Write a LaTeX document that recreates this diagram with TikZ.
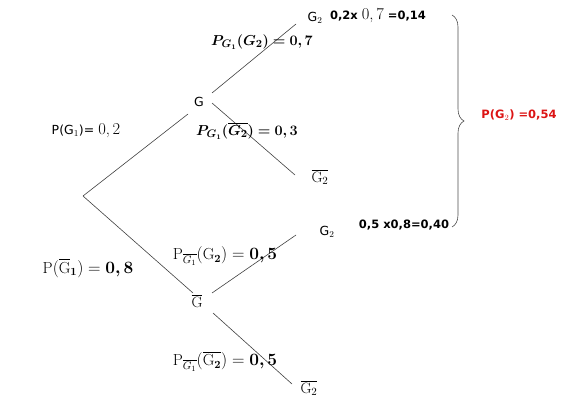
\documentclass[tikz,border=0pt]{standalone}
\usepackage{amsmath,bm}
\usepackage{fontspec}
\newfontfamily\sans{DejaVu Sans}
\usetikzlibrary{decorations.pathreplacing}
\definecolor{myred}{RGB}{220,20,20}
\begin{document}
\begin{tikzpicture}[x=1pt,y=-1pt,
  br/.style={draw=black!75, line width=0.6pt},
  sl/.style={font=\sans\fontsize{12.5}{14}\selectfont, inner sep=1pt},
  ml/.style={font=\fontsize{15}{17}\selectfont, inner sep=1pt},
  sb/.style={font=\sans\bfseries\fontsize{11.5}{13}\selectfont, inner sep=1pt}]
\useasboundingbox (0,0) rectangle (584,409);
% vertices
\coordinate (r) at (83,196);
\node[sl] (g) at (199,102) {G};
\node[ml] (gb) at (197,301) {$\overline{\mathrm{G}}$};
\node[sl] (g2a) at (315,18) {G$_2$};
\node[ml] (g2ba) at (320,177) {$\overline{\mathrm{G}_2}$};
\node[sl] (g2b) at (327,232) {G$_2$};
\node[ml] (g2bb) at (309,388) {$\overline{\mathrm{G}_2}$};
% branches
\draw[br] (r) -- (188,114);
\draw[br] (r) -- (193,293);
\draw[br] (212,93) -- (296,24);
\draw[br] (212,103) -- (295,175);
\draw[br] (212,293) -- (296,235);
\draw[br] (213,313) -- (292,384);
% labels
\node[sl] (p1) at (86,131) {P(G$_1$)= {\rmfamily\fontsize{16.5}{18}\selectfont 0,\,2}};
\node[ml, font=\fontsize{16}{18}\selectfont] (p2) at (88,268) {$\mathrm{P}(\overline{\mathrm{G}}_{\bm{1}}) = \bm{0,8}$};
\node[ml] (p3) at (262,42) {$\bm{P_{G_1}(G_2) = 0,7}$};
\node[ml] (p4) at (247,131) {$\bm{P_{G_1}(\overline{G_2}) = 0,3}$};
\node[ml, font=\fontsize{16}{18}\selectfont] (p5) at (225,256) {$\mathrm{P}_{\overline{G_1}}(\mathrm{G}_{\bm 2}) = \bm{0,5}$};
\node[ml, font=\fontsize{16}{18}\selectfont] (p6) at (225,361) {$\mathrm{P}_{\overline{G_1}}(\overline{\mathrm{G}_{\bm 2}}) = \bm{0,5}$};
\node[sb] (c1) at (378,16) {0,2x {\rmfamily\mdseries\fontsize{16.5}{18}\selectfont 0,\,7} =0,14};
\node[sb] (c2) at (404,225) {0,5 x0,8=0,40};
% brace
\coordinate (bt) at (452,15);
\coordinate (bb) at (452,227);
\draw[draw=black!70, line width=0.6pt, decorate, decoration={brace, amplitude=12pt}] (bt) -- (bb);
\node[sb, text=myred] (res) at (519,115) {P(G$_2$) =0,54};
\end{tikzpicture}
\end{document}
